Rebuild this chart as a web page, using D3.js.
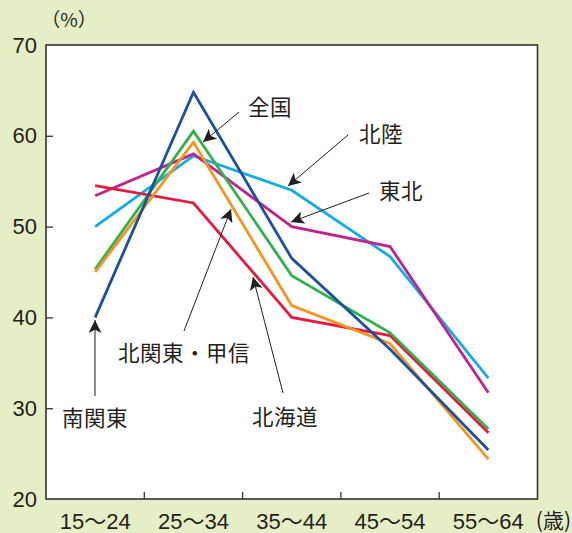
<!DOCTYPE html>
<html>
<head>
<meta charset="utf-8">
<script src="https://cdn.jsdelivr.net/npm/d3@7"></script>
<style>
  html, body { margin: 0; padding: 0; background: #e6eec6; }
  svg { display: block; }
</style>
</head>
<body>
<script>
// Age groups and y-axis ticks
const categories = ["15～24", "25～34", "35～44", "45～54", "55～64"];
const yTicks = [20, 30, 40, 50, 60, 70];

// Rates (%) by region, one array per line
const zenkoku   = [45.3, 60.5, 44.6, 38.3, 27.7];   // 全国
const minamiKanto = [40.0, 64.8, 46.5, 36.5, 25.4]; // 南関東
const kitaKanto = [45.0, 59.3, 41.3, 37.1, 24.4];   // 北関東・甲信
const hokkaido  = [54.5, 52.6, 40.0, 38.0, 27.3];   // 北海道
const tohoku    = [53.4, 58.0, 50.0, 47.8, 31.7];   // 東北
const hokuriku  = [50.0, 57.8, 54.0, 46.7, 33.3];   // 北陸

const series = [
  { name: "北陸", values: hokuriku, color: "#12ade6" },
  { name: "東北", values: tohoku, color: "#c2228e" },
  { name: "北海道", values: hokkaido, color: "#e8193f" },
  { name: "全国", values: zenkoku, color: "#2fb24b" },
  { name: "北関東・甲信", values: kitaKanto, color: "#f7941d" },
  { name: "南関東", values: minamiKanto, color: "#1b4f9f" }
];

const W = 572, H = 533;
const plot = { left: 46, right: 537.5, top: 45, bottom: 499 };

const svg = d3.select("body").append("svg").attr("width", W).attr("height", H);

svg.append("rect").attr("width", W).attr("height", H).attr("fill", "#e6eec6");

const x = d3.scaleBand().domain(categories).range([plot.left, plot.right]).padding(0);
const y = d3.scaleLinear().domain([20, 70]).range([plot.bottom, plot.top]);
const cx = c => x(c) + x.bandwidth() / 2;

// plot panel
svg.append("rect")
  .attr("x", plot.left).attr("y", plot.top)
  .attr("width", plot.right - plot.left).attr("height", plot.bottom - plot.top)
  .attr("fill", "#ffffff").attr("stroke", "#333").attr("stroke-width", 1.6);

const numFont = "'Liberation Sans', Arial, 'Noto Sans CJK JP', sans-serif";
const jpFont = "'Noto Sans CJK JP', 'Noto Sans', sans-serif";

// y axis, ticks pointing into the panel
const yAxis = d3.axisLeft(y).tickValues(yTicks).tickSize(-7).tickPadding(9);
const gy = svg.append("g").attr("transform", `translate(${plot.left},0)`).call(yAxis);
gy.select(".domain").remove();
gy.selectAll("line").attr("stroke", "#333").attr("stroke-width", 1.3);
gy.selectAll("text").attr("font-family", numFont).attr("font-size", 22).attr("fill", "#231f20");
gy.selectAll(".tick").filter(d => d === 70 || d === 20).select("line").remove();

// x axis: ticks at the band boundaries, labels at the band centres
const gx = svg.append("g");
gx.selectAll("line").data(categories.slice(1)).join("line")
  .attr("x1", d => x(d)).attr("x2", d => x(d))
  .attr("y1", plot.bottom).attr("y2", plot.bottom - 7)
  .attr("stroke", "#333").attr("stroke-width", 1.3);
gx.selectAll("text").data(categories).join("text")
  .attr("x", d => cx(d)).attr("y", plot.bottom + 30)
  .attr("text-anchor", "middle")
  .attr("font-family", numFont).attr("font-size", 22).attr("fill", "#231f20")
  .text(d => d);

svg.append("text").attr("x", 571).attr("y", plot.bottom + 29)
  .attr("font-family", jpFont).attr("font-size", 21).attr("fill", "#231f20")
  .attr("text-anchor", "end").text("(歳)");

svg.append("text").attr("x", 69).attr("y", 27)
  .attr("font-family", jpFont).attr("font-size", 19).attr("fill", "#231f20")
  .attr("text-anchor", "middle").text("（%）");

// lines
const line = d3.line().x((d, i) => cx(categories[i])).y(d => y(d));
svg.append("g").selectAll("path").data(series).join("path")
  .attr("d", d => line(d.values))
  .attr("fill", "none").attr("stroke", d => d.color)
  .attr("stroke-width", 2.8).attr("stroke-linejoin", "miter");

// annotation arrows
svg.append("defs").append("marker")
  .attr("id", "arrow").attr("viewBox", "0 0 10 10")
  .attr("refX", 10).attr("refY", 5)
  .attr("markerWidth", 13).attr("markerHeight", 13).attr("markerUnits", "userSpaceOnUse")
  .attr("orient", "auto")
  .append("path").attr("d", "M0,0 L10,5 L0,10 L2.5,5 Z").attr("fill", "#231f20");

// label: text position, arrow start, and the series point the arrow leans toward
const labels = [
  { text: "全国", tx: 270, ty: 115, from: [239, 112], to: [203, 142] },
  { text: "北陸", tx: 381, ty: 142, from: [348, 135], to: [288, 186] },
  { text: "東北", tx: 401, ty: 199, from: [369, 193], to: [291, 222] },
  { text: "北関東・甲信", tx: 184, ty: 361, from: [184, 331], to: [231, 209] },
  { text: "北海道", tx: 285, ty: 425, from: [283, 393], to: [253, 277] },
  { text: "南関東", tx: 95, ty: 426, from: [95, 396], to: [95, 320] }
];

const ann = svg.append("g");
ann.selectAll("line").data(labels).join("line")
  .attr("x1", d => d.from[0]).attr("y1", d => d.from[1])
  .attr("x2", d => d.to[0]).attr("y2", d => d.to[1])
  .attr("stroke", "#231f20").attr("stroke-width", 1)
  .attr("marker-end", "url(#arrow)");
ann.selectAll("text").data(labels).join("text")
  .attr("x", d => d.tx).attr("y", d => d.ty)
  .attr("text-anchor", "middle")
  .attr("font-family", jpFont).attr("font-size", 21.5).attr("fill", "#231f20")
  .attr("letter-spacing", 0.5)
  .text(d => d.text);
</script>
</body>
</html>
